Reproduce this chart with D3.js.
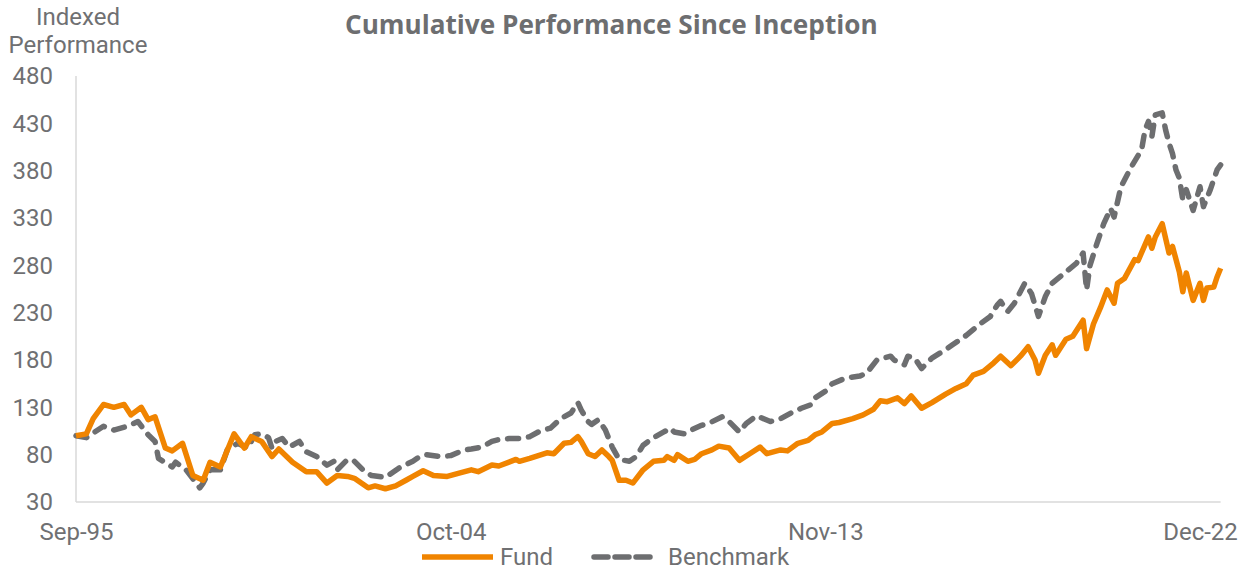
<!DOCTYPE html>
<html>
<head>
<meta charset="utf-8">
<script src="https://cdn.jsdelivr.net/npm/d3@7"></script>
<style>
    body { margin: 0; background: #ffffff; }
    svg text { font-family: Roboto, "Liberation Sans", sans-serif; fill: #6f7072; }
</style>
</head>
<body>
<svg id="perf-chart"></svg>
<script>
//Data: month offsets from Sep-95 and indexed values
const fundMonths = [0, 3, 5, 8, 11, 14, 16, 19, 21, 23, 26, 28, 31, 34, 37, 39, 42, 46, 49, 51,
    54, 57, 59, 63, 67, 70, 73, 76, 79, 81, 85, 87, 90, 93, 96, 98, 101, 104, 108, 112,
    115, 117, 121, 123, 128, 129, 132, 137, 139, 142, 144, 146, 147, 149, 151, 153, 155, 156, 158, 160,
    162, 165, 168, 171, 172, 174, 175, 178, 180, 182, 185, 187, 190, 193, 196, 199, 201, 205, 207, 210,
    213, 215, 217, 220, 222, 226, 229, 232, 234, 236, 239, 241, 243, 246, 249, 253, 256, 259, 261, 264,
    267, 269, 272, 275, 277, 279, 280, 282, 284, 285, 288, 290, 293, 294, 296, 298, 300, 302, 303, 305,
    308, 309, 312, 313, 314, 316, 318, 319, 321, 322, 323, 325, 327, 328, 329, 331, 332, 333];
const fundValues = [100, 102, 118, 133, 130, 133, 122, 130, 117, 120, 87, 84, 92, 58, 53, 72, 67, 102, 87, 99,
    94, 78, 86, 72, 62, 62, 50, 58, 57, 55, 45, 47, 44, 47, 53, 57, 63, 58, 57, 61,
    64, 62, 69, 68, 75, 73, 76, 82, 81, 92, 93, 99, 94, 81, 78, 85, 78, 74, 53, 53,
    50, 64, 73, 74, 78, 74, 80, 73, 75, 81, 85, 89, 87, 74, 81, 88, 81, 85, 84, 92,
    95, 101, 104, 113, 114, 118, 122, 128, 137, 136, 140, 134, 142, 129, 135, 144, 150, 155, 164, 168,
    177, 184, 174, 185, 194, 180, 166, 185, 196, 185, 202, 205, 222, 192, 218, 235, 254, 240, 261, 266,
    286, 285, 310, 298, 310, 324, 293, 300, 273, 252, 272, 243, 261, 243, 256, 257, 268, 277];

const benchMonths = [0, 3, 8, 11, 15, 18, 21, 23, 24, 28, 29, 32, 36, 37, 39, 42, 44, 47, 50, 52,
    54, 56, 57, 58, 60, 62, 65, 67, 70, 73, 75, 76, 79, 81, 84, 86, 90, 94, 98, 100,
    102, 106, 109, 113, 115, 118, 121, 123, 126, 129, 132, 135, 138, 141, 144, 146, 147, 149, 150, 152,
    154, 156, 158, 161, 163, 165, 168, 171, 173, 174, 177, 179, 182, 184, 188, 190, 193, 195, 198, 202,
    205, 208, 211, 214, 215, 218, 220, 224, 228, 230, 233, 237, 238, 241, 242, 244, 246, 249, 253, 255,
    259, 263, 266, 268, 269, 271, 273, 276, 278, 280, 282, 284, 285, 287, 291, 293, 294, 295, 297, 299,
    301, 302, 304, 307, 310, 311, 312, 313, 314, 316, 317, 318, 319, 320, 321, 322, 323, 325, 327, 328,
    330, 332, 333];
const benchValues = [100, 98, 110, 106, 110, 115, 101, 94, 76, 67, 72, 64, 45, 50, 64, 64, 85, 92, 87, 101,
    102, 98, 87, 94, 97, 88, 94, 83, 78, 69, 73, 64, 75, 73, 62, 58, 56, 66, 73, 78,
    80, 78, 79, 85, 86, 88, 94, 96, 97, 97, 99, 105, 108, 118, 124, 135, 127, 115, 112, 117,
    106, 88, 75, 73, 78, 90, 98, 104, 108, 104, 102, 106, 111, 113, 120, 115, 104, 113, 121, 115,
    118, 124, 129, 133, 140, 147, 155, 161, 163, 166, 180, 184, 180, 175, 184, 182, 171, 182, 191, 196,
    206, 218, 226, 238, 242, 231, 240, 261, 250, 226, 247, 261, 264, 270, 282, 293, 254, 280, 303, 324,
    340, 331, 363, 384, 402, 423, 432, 416, 439, 441, 423, 409, 398, 381, 372, 349, 360, 338, 363, 342,
    360, 381, 386];

//Axis tick labels
const yTicks = [30, 80, 130, 180, 230, 280, 330, 380, 430, 480];
const xTickMonths = [0, 109, 218, 327];
const xTickLabels = ['Sep-95', 'Oct-04', 'Nov-13', 'Dec-22'];

const seriesNames = ['Fund', 'Benchmark'];

//Setting up canvas
let width = 1249;
let height = 572;
let margin = {left: 76, top: 76, bottom: 70, right: 29};

const orange = '#f08400';
const grey = '#6d6e70';

let svg = d3.select('#perf-chart')
    .attr('width', width)
    .attr('height', height);

//Scales: last labelled month (Dec-22) sits a little inside the right edge
let xScale = d3.scaleLinear()
    .domain([0, 327])
    .range([margin.left, 1200]);

let yScale = d3.scaleLinear()
    .domain([30, 480])
    .range([height - margin.bottom, margin.top]);

let lastMonth = d3.max(fundMonths);

//Axis lines
svg.append('line')
    .attr('x1', xScale(0)).attr('x2', xScale(0))
    .attr('y1', yScale(480)).attr('y2', yScale(30))
    .attr('stroke', '#d9d9d9')
    .attr('stroke-width', 1.5);

svg.append('line')
    .attr('x1', xScale(0)).attr('x2', xScale(lastMonth))
    .attr('y1', yScale(30)).attr('y2', yScale(30))
    .attr('stroke', '#d9d9d9')
    .attr('stroke-width', 1.5);

//Y axis tick labels (no tick marks)
let yAxis = d3.axisLeft(yScale)
    .tickValues(yTicks)
    .tickSize(0)
    .tickPadding(23);

let gY = svg.append('g')
    .attr('transform', 'translate(' + margin.left + ', 0)')
    .call(yAxis);
gY.select('.domain').remove();
gY.selectAll('text')
    .attr('font-size', 24)
    .attr('fill', '#6f7072')
    .attr('font-family', 'Roboto, sans-serif');

//X axis tick labels
let xAxis = d3.axisBottom(xScale)
    .tickValues(xTickMonths)
    .tickFormat((d, i) => xTickLabels[i])
    .tickSize(0)
    .tickPadding(21);

let gX = svg.append('g')
    .attr('transform', 'translate(0, ' + yScale(30) + ')')
    .call(xAxis);
gX.select('.domain').remove();
gX.selectAll('text')
    .attr('font-size', 24)
    .attr('fill', '#6f7072')
    .attr('font-family', 'Roboto, sans-serif');

//Line generator
let line = d3.line()
    .x(d => xScale(d[0]))
    .y(d => yScale(d[1]));

let benchData = benchMonths.map((m, i) => [m, benchValues[i]]);
let fundData = fundMonths.map((m, i) => [m, fundValues[i]]);

svg.append('path')
    .datum(benchData)
    .attr('d', line)
    .attr('fill', 'none')
    .attr('stroke', grey)
    .attr('stroke-width', 5.5)
    .attr('stroke-linecap', 'round')
    .attr('stroke-linejoin', 'round')
    .attr('stroke-dasharray', '11 10');

svg.append('path')
    .datum(fundData)
    .attr('d', line)
    .attr('fill', 'none')
    .attr('stroke', orange)
    .attr('stroke-width', 5.5)
    .attr('stroke-linejoin', 'round');

//Title - sized so it spans the same width as the original
let title = svg.append('text')
    .attr('x', 345)
    .attr('y', 34)
    .style('font-family', '"Open Sans", sans-serif')
    .style('font-weight', 700)
    .style('font-size', '26px')
    .style('fill', '#6d6e70')
    .text('Cumulative Performance Since Inception');
let titleWidth = title.node().getComputedTextLength();
title.style('font-size', (26 * 533 / titleWidth) + 'px');

//Y axis title, two lines
svg.append('text')
    .attr('x', 78)
    .attr('y', 25)
    .attr('text-anchor', 'middle')
    .attr('font-size', 24)
    .text('Indexed');
svg.append('text')
    .attr('x', 78)
    .attr('y', 53)
    .attr('text-anchor', 'middle')
    .attr('font-size', 24)
    .text('Performance');

//Legend
let legend = svg.append('g');
legend.append('line')
    .attr('x1', 422).attr('x2', 493)
    .attr('y1', 557).attr('y2', 557)
    .attr('stroke', orange)
    .attr('stroke-width', 5.5);
legend.append('text')
    .attr('x', 500)
    .attr('y', 565)
    .attr('font-size', 24)
    .text(seriesNames[0]);
legend.append('line')
    .attr('x1', 594).attr('x2', 655)
    .attr('y1', 557).attr('y2', 557)
    .attr('stroke', grey)
    .attr('stroke-width', 5.5)
    .attr('stroke-linecap', 'round')
    .attr('stroke-dasharray', '14 7');
legend.append('text')
    .attr('x', 668)
    .attr('y', 565)
    .attr('font-size', 24)
    .text(seriesNames[1]);
</script>
</body>
</html>
